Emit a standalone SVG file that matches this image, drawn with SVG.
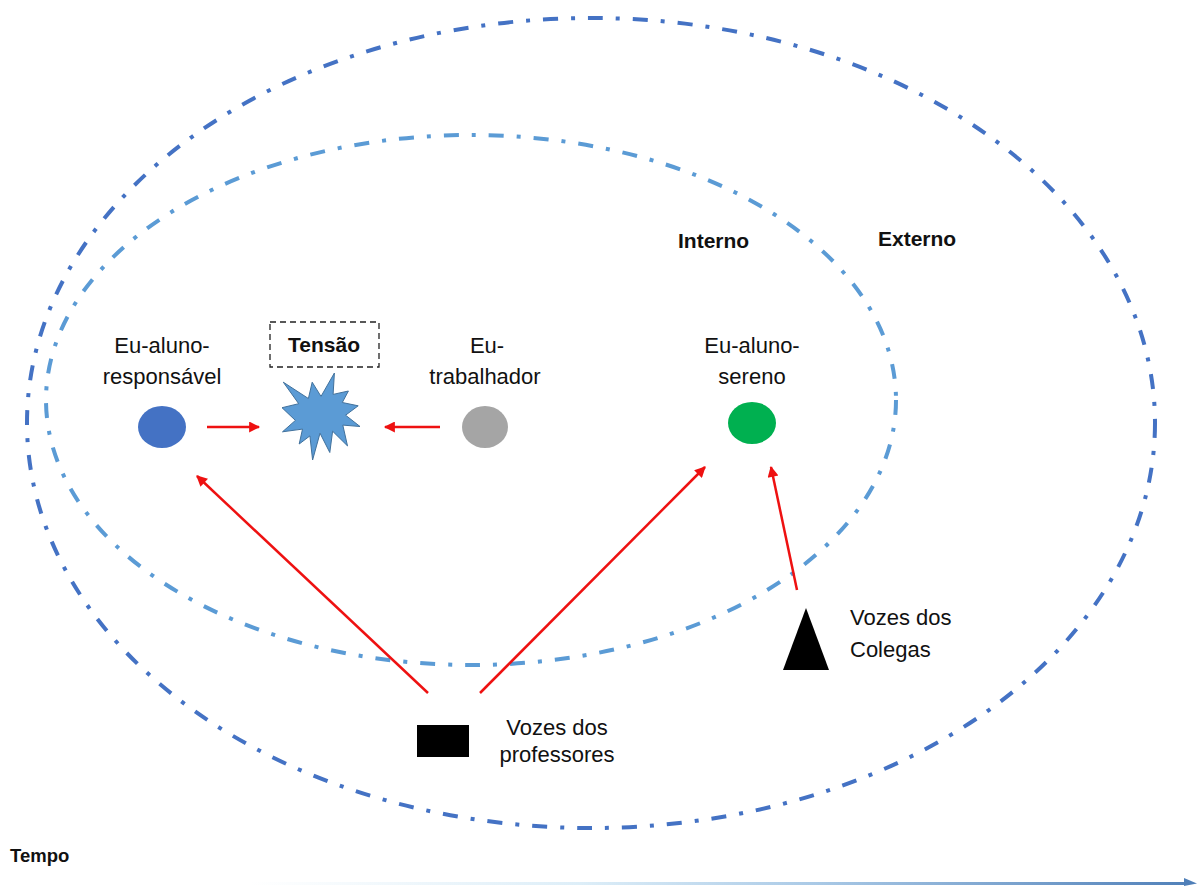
<svg xmlns="http://www.w3.org/2000/svg" width="1200" height="886" viewBox="0 0 1200 886">
  <style>
    .lbl { font-family: "Liberation Sans", Arial, sans-serif; font-size: 22px; fill: #111; }
    .bold { font-family: "Liberation Sans", Arial, sans-serif; font-weight: bold; fill: #111; }
    .ring { fill: none; stroke-width: 4; stroke-dasharray: 15 13 4 13; }
    .conn { stroke: #EE1111; stroke-width: 2.5; fill: none; marker-end: url(#head); }
  </style>
  <defs>
    <marker id="head" viewBox="0 0 10 10" refX="9" refY="5" markerWidth="13" markerHeight="11" markerUnits="userSpaceOnUse" orient="auto">
      <path d="M0,0 L10,5 L0,10 Z" fill="#EE1111"/>
    </marker>
    <linearGradient id="timeGrad" x1="250" y1="0" x2="1195" y2="0" gradientUnits="userSpaceOnUse">
      <stop offset="0" stop-color="#FFFFFF"/>
      <stop offset="0.35" stop-color="#DDEEF8"/>
      <stop offset="0.6" stop-color="#A9C9E6"/>
      <stop offset="1" stop-color="#4F7FB8"/>
    </linearGradient>
  </defs>

  <rect width="1200" height="886" fill="#FFFFFF"/>

  <!-- context rings -->
  <g id="externo">
    <ellipse class="ring" cx="591" cy="423" rx="564" ry="405" stroke="#4472C4"/>
    <text class="bold" x="878" y="246" font-size="21">Externo</text>
  </g>
  <g id="interno">
    <ellipse class="ring" cx="471" cy="400" rx="425" ry="265" stroke="#5B9BD5"/>
    <text class="bold" x="678" y="248" font-size="21">Interno</text>
  </g>

  <!-- I-positions -->
  <g id="eu-aluno-responsavel">
    <ellipse cx="162" cy="427" rx="24" ry="21" fill="#4472C4"/>
    <text class="lbl" x="162" y="353" text-anchor="middle">Eu-aluno-</text>
    <text class="lbl" x="162" y="384" text-anchor="middle">responsável</text>
  </g>
  <g id="tensao">
    <polygon fill="#5B9BD5" stroke="#41719C" stroke-width="1"
      points="321,396.4 334.4,373 333.1,394.4 348.4,391 342.3,402.5 358.2,405.8 345.6,415.2 360,426.5 342.8,425.1 347.5,445.9 332.6,431.2 329.8,452.5 320,433.2 312.6,460 309.9,435.9 299.2,444 302.5,429.1 282.5,431.8 295.4,420.4 282,407.7 298.7,403.7 283.3,382.2 308.4,398.5 312.2,382.2"/>
    <rect x="270" y="322" width="109" height="45" fill="none" stroke="#222" stroke-width="1.3" stroke-dasharray="6 4"/>
    <text class="bold" x="324" y="352" font-size="21" text-anchor="middle">Tensão</text>
  </g>
  <g id="eu-trabalhador">
    <ellipse cx="485" cy="427" rx="23" ry="21" fill="#A5A5A5"/>
    <text class="lbl" x="487" y="353" text-anchor="middle">Eu-</text>
    <text class="lbl" x="485" y="384" text-anchor="middle">trabalhador</text>
  </g>
  <g id="eu-aluno-sereno">
    <ellipse cx="752" cy="423" rx="24" ry="21" fill="#00B050"/>
    <text class="lbl" x="752" y="353" text-anchor="middle">Eu-aluno-</text>
    <text class="lbl" x="752" y="384" text-anchor="middle">sereno</text>
  </g>

  <!-- voices -->
  <g id="vozes-professores">
    <rect x="417" y="725" width="52" height="32" fill="#000"/>
    <text class="lbl" x="557" y="735" text-anchor="middle">Vozes dos</text>
    <text class="lbl" x="557" y="762" text-anchor="middle">professores</text>
  </g>
  <g id="vozes-colegas">
    <polygon points="806,608 783,670 829,670" fill="#000"/>
    <text class="lbl" x="850" y="625">Vozes dos</text>
    <text class="lbl" x="850" y="657">Colegas</text>
  </g>

  <!-- connectors -->
  <g id="connectors">
    <line class="conn" x1="207" y1="427" x2="259" y2="427"/>
    <line class="conn" x1="440" y1="427" x2="385" y2="427"/>
    <line class="conn" x1="428" y1="693" x2="197" y2="476"/>
    <line class="conn" x1="480" y1="693" x2="705" y2="467"/>
    <line class="conn" x1="797" y1="590" x2="771" y2="467"/>
  </g>

  <!-- time axis -->
  <g id="tempo">
    <text class="bold" x="10" y="862" font-size="18.5">Tempo</text>
    <line x1="250" y1="883.5" x2="1186" y2="883.5" stroke="url(#timeGrad)" stroke-width="3"/>
    <path d="M1184,878 L1197,883.5 L1184,886 Z" fill="#4F7FB8"/>
  </g>
</svg>
